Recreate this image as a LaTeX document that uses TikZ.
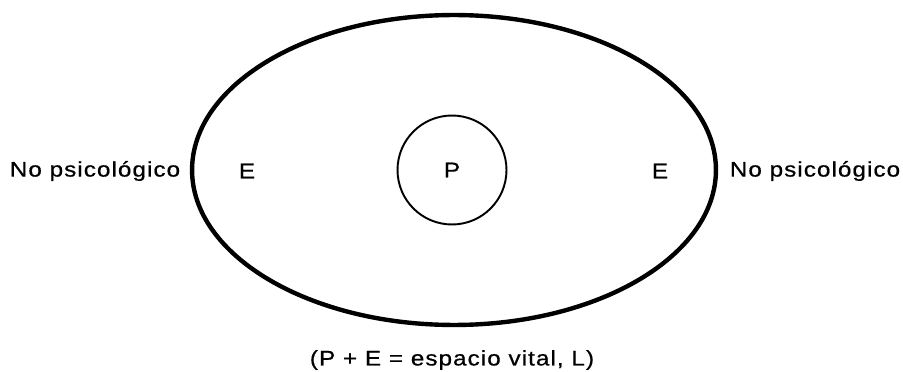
\documentclass[tikz,border=0pt]{standalone}
\usepackage{fontspec}
\setmainfont{Liberation Sans}[FakeStretch=1.15,LetterSpace=5,FakeBold=0.6]
\usetikzlibrary{shapes.geometric}

\begin{document}
\begin{tikzpicture}[
  x=0.02cm,y=0.02cm,
  lbl/.style={font=\fontsize{12}{14}\selectfont, inner sep=0pt},
  campo/.style={ellipse, draw=black, line width=2.5pt, minimum width=10.48cm, minimum height=6.2cm, inner sep=0pt},
  pnode/.style={circle, draw=black, line width=1.1pt, minimum size=2.18cm, inner sep=0pt, font=\fontsize{12}{14}\selectfont},
]
\useasboundingbox (0,0) rectangle (903,372);
% espacio vital
\node[campo] (espacio) at (454,202) {};
\node[pnode] (persona) at (452,202) {P};
\node[lbl] (eizq) at (247,201) {E};
\node[lbl] (eder) at (660,201) {E};
% fuera del espacio
\node[lbl] (npizq) at (95,201) {No psicológico};
\node[lbl] (npder) at (815,201) {No psicológico};
\node[lbl] (nota) at (452,12) {(P + E = espacio vital, L)};
\end{tikzpicture}
\end{document}
